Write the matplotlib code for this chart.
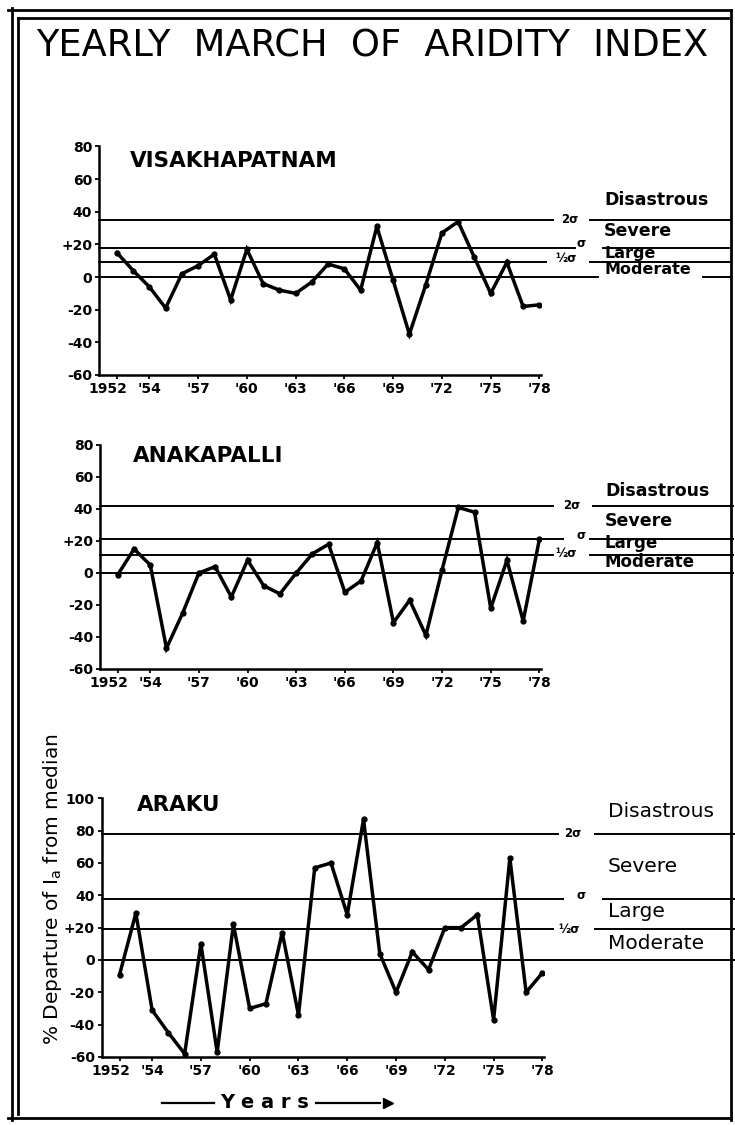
import matplotlib
matplotlib.use("Agg")
import matplotlib.pyplot as plt
import matplotlib.transforms as mtransforms
from matplotlib.lines import Line2D

W, H = 735, 1125

years = list(range(1952, 1979))
visakhapatnam = [15, 4, -6, -19, 2, 7, 14, -14, 17, -4, -8, -10, -3, 8, 5, -8, 31, -2, -35, -5, 27, 34, 12, -10, 9, -18, -17]
anakapalli = [-1, 15, 5, -47, -25, 0, 4, -15, 8, -8, -13, 0, 12, 18, -12, -5, 19, -31, -17, -39, 2, 41, 38, -22, 8, -30, 21]
araku = [-9, 29, -31, -45, -58, 10, -57, 22, -30, -27, 17, -34, 57, 60, 28, 87, 4, -20, 5, -6, 20, 20, 28, -37, 63, -20, -8]

# threshold levels: 2 sigma, sigma, half sigma, median
levels_visak = [35, 18, 9, 0]
levels_anak = [42, 21, 11, 0]
levels_araku = [78, 38, 19, 0]

classes = ["Disastrous", "Severe", "Large", "Moderate"]
xtick_pos = [1952, 1954, 1957, 1960, 1963, 1966, 1969, 1972, 1975, 1978]
xtick_lab = ["1952", "'54", "'57", "'60", "'63", "'66", "'69", "'72", "'75", "'78"]


def fx(px):
    return px / W


def fy(py):
    return 1 - py / H


fig = plt.figure(figsize=(7.35, 11.25), dpi=100)

panels = [
    dict(name="VISAKHAPATNAM", data=visakhapatnam, levels=levels_visak,
         box=(99, 146.5, 541, 375), ylim=(-60, 80), name_xy=(130, 161),
         segs=[[(99, 553), (590, 731)], [(99, 575), (603, 731)],
               [(99, 546), (590, 731)], [(99, 598), (703, 731)]],
         marks=[(570, 35), (581, 20.5), (566, 11.5)],
         lab_x=604, lab_y=[47, 28.5, 14.5, 4.5], bold=True, labsize=[12.5, 12.5, 11.5, 11.5]),
    dict(name="ANAKAPALLI", data=anakapalli, levels=levels_anak,
         box=(100, 445, 541, 669), ylim=(-60, 80), name_xy=(133, 456),
         segs=[[(100, 553), (593, 733)], [(100, 563), (590, 733)],
               [(100, 553), (590, 733)], [(100, 733)]],
         marks=[(572, 42), (581, 23.5), (566, 12)],
         lab_x=605, lab_y=[51, 32.5, 18.5, 7], bold=True, labsize=[12.5, 12.5, 12, 12]),
    dict(name="ARAKU", data=araku, levels=levels_araku,
         box=(101.7, 798.3, 544, 1057), ylim=(-60, 100), name_xy=(137, 805),
         segs=[[(102, 558), (595, 735)], [(102, 563), (603, 735)],
               [(102, 553), (595, 735)], [(102, 735)]],
         marks=[(573, 78), (581, 40), (569, 19)],
         lab_x=608, lab_y=[92, 58, 30, 10.5], bold=False, labsize=[14.5] * 4),
]

for p in panels:
    l, t, r, b = p["box"]
    ax = fig.add_axes([fx(l), fy(b), (r - l) / W, (b - t) / H])
    ax.plot(years, p["data"], color="black", lw=2.5, marker="o", ms=3.5,
            solid_joinstyle="miter")
    ax.set_xlim(1950.9, 1978.1)
    ax.set_ylim(*p["ylim"])
    yt = list(range(p["ylim"][0], p["ylim"][1] + 1, 20))
    ax.set_yticks(yt)
    ax.set_yticklabels([("+%d" % v if v == 20 else "%d" % v) for v in yt])
    ax.set_xticks(xtick_pos)
    ax.set_xticklabels(xtick_lab)
    for s in ["top", "right"]:
        ax.spines[s].set_visible(False)
    for s in ["left", "bottom"]:
        ax.spines[s].set_linewidth(1.8)
    ax.tick_params(direction="out", length=3, width=1.3, labelsize=10, pad=2)
    for lab in ax.get_xticklabels() + ax.get_yticklabels():
        lab.set_fontweight("bold")
    # first year label sits a little to the left of its tick
    first = ax.get_xticklabels()[0]
    first.set_transform(first.get_transform() +
                        mtransforms.ScaledTranslation(-0.09, 0, fig.dpi_scale_trans))

    tr = mtransforms.blended_transform_factory(fig.transFigure, ax.transData)
    for lev, segs in zip(p["levels"], p["segs"]):
        for s in segs:
            ax.add_line(Line2D([fx(s[0]), fx(s[1])], [lev, lev], transform=tr,
                               color="black", lw=1.4, clip_on=False))
    wt = "bold" if p["bold"] else "normal"
    for (mx, my), txt in zip(p["marks"], ["2σ", "σ", "½σ"]):
        ax.text(fx(mx), my, txt, transform=tr, fontsize=8.5, fontweight="bold",
                ha="center", va="center")
    for cy, txt, fs in zip(p["lab_y"], classes, p["labsize"]):
        ax.text(fx(p["lab_x"]), cy, txt, transform=tr, fontsize=fs,
                fontweight=wt, ha="left", va="center")
    fig.text(fx(p["name_xy"][0]), fy(p["name_xy"][1]), p["name"], fontsize=15.5,
             fontweight="bold", ha="left", va="center")

fig.text(fx(372), fy(46), "YEARLY  MARCH  OF  ARIDITY  INDEX", fontsize=26.5,
         ha="center", va="center")
fig.text(fx(53), fy(889), "% Departure of I$_\\mathregular{a}$ from median",
         rotation=90, fontsize=14.5, ha="center", va="center")

# Years arrow
fig.text(fx(265), fy(1103), "Y e a r s", fontsize=14, fontweight="bold",
         ha="center", va="center")
fig.add_artist(Line2D([fx(162), fx(214)], [fy(1103), fy(1103)], color="black", lw=1.6))
fig.add_artist(Line2D([fx(316), fx(380)], [fy(1103), fy(1103)], color="black", lw=1.6))
fig.add_artist(Line2D([fx(388)], [fy(1103)], marker=">", ms=7, color="black"))

# page frame
frame = [((12, 12), (8, 1120)), ((18, 18), (18, 1114)), ((8, 731), (10, 10)),
         ((18, 728), (18, 18)), ((731, 731), (10, 1120)), ((8, 731), (1118, 1118))]
for xs, ys in frame:
    fig.add_artist(Line2D([fx(xs[0]), fx(xs[1])], [fy(ys[0]), fy(ys[1])],
                          color="black", lw=2))

fig.savefig("out.png", dpi=100)
